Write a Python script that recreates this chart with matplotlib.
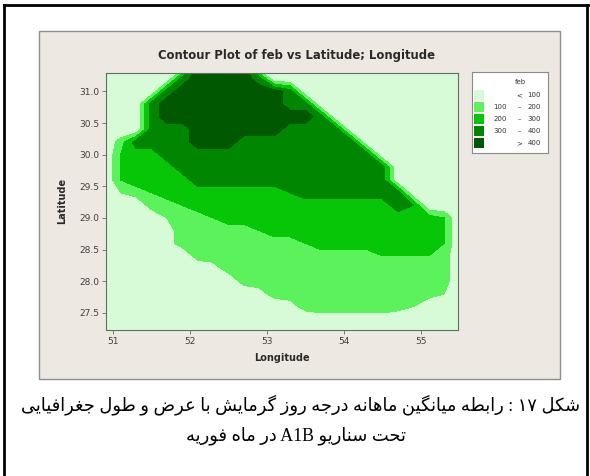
import matplotlib
matplotlib.use("Agg")
import matplotlib.pyplot as plt
from matplotlib.patches import Rectangle
from matplotlib.lines import Line2D
import numpy as np

# grid nodes of the feb field
longitude = [50.9, 51.1, 51.3, 51.5, 51.7, 51.9, 52.1, 52.3, 52.5, 52.7, 52.9, 53.1,
             53.3, 53.5, 53.7, 53.9, 54.1, 54.3, 54.5, 54.7, 54.9, 55.1, 55.3, 55.5]
latitude = [31.4, 31.2, 31.0, 30.8, 30.6, 30.4, 30.2, 30.0, 29.8, 29.6, 29.4,
            29.2, 29.0, 28.8, 28.6, 28.4, 28.2, 28.0, 27.8, 27.6, 27.4, 27.2]

# one string per latitude (north -> south), each digit is feb / 50
feb_rows = [
    "000000999900000000000000",
    "000007999970000000000000",
    "000079999999700000000000",
    "000799999999770000000000",
    "000799999999997000000000",
    "000777999999777700000000",
    "037777999777777770000000",
    "045577777777777777000000",
    "045557777777777777700000",
    "045555777777777777700000",
    "023455555555677777770000",
    "000334555555555555576000",
    "000023345555555555555540",
    "000013333345555555555540",
    "000013333333345555555540",
    "000000333333333333444430",
    "000000013333333333333330",
    "000000000333333333333330",
    "000000000013333333333320",
    "000000000000133333332000",
    "000000000000001111100000",
    "000000000000000000000000",
]

levels = [0, 100, 200, 300, 400, 500]
level_colors = ["#d6fbd6", "#5cf25c", "#07c607", "#008600", "#005800"]

x_ticks = [51, 52, 53, 54, 55]
y_ticks = [27.5, 28.0, 28.5, 29.0, 29.5, 30.0, 30.5, 31.0]

caption_1 = "شکل ۱۷ : رابطه میانگین ماهانه درجه روز گرمایش با عرض و طول جغرافیایی"
caption_2 = "تحت سناریو A1B در ماه فوریه"

# contextual forms: isolated, final, initial, medial (two = right-joining only)
FORMS = {
    "ا": "\ufe8d\ufe8e", "ب": "\ufe8f\ufe90\ufe91\ufe92",
    "ت": "\ufe95\ufe96\ufe97\ufe98", "ج": "\ufe9d\ufe9e\ufe9f\ufea0",
    "ح": "\ufea1\ufea2\ufea3\ufea4", "د": "\ufea9\ufeaa",
    "ر": "\ufead\ufeae", "ز": "\ufeaf\ufeb0",
    "س": "\ufeb1\ufeb2\ufeb3\ufeb4", "ش": "\ufeb5\ufeb6\ufeb7\ufeb8",
    "ض": "\ufebd\ufebe\ufebf\ufec0", "ط": "\ufec1\ufec2\ufec3\ufec4",
    "ع": "\ufec9\ufeca\ufecb\ufecc", "غ": "\ufecd\ufece\ufecf\ufed0",
    "ف": "\ufed1\ufed2\ufed3\ufed4", "ل": "\ufedd\ufede\ufedf\ufee0",
    "م": "\ufee1\ufee2\ufee3\ufee4", "ن": "\ufee5\ufee6\ufee7\ufee8",
    "ه": "\ufee9\ufeea\ufeeb\ufeec", "و": "\ufeed\ufeee",
    "ک": "\ufb8e\ufb8f\ufb90\ufb91", "گ": "\ufb92\ufb93\ufb94\ufb95",
    "ی": "\ufbfc\ufbfd\ufbfe\ufbff",
}


def shape_word(word):
    out = []
    for i, ch in enumerate(word):
        forms = FORMS.get(ch)
        if forms is None:
            out.append(ch)
            continue
        prev = FORMS.get(word[i - 1]) if i > 0 else None
        nxt = FORMS.get(word[i + 1]) if i + 1 < len(word) else None
        join_prev = prev is not None and len(prev) == 4
        join_next = nxt is not None and len(forms) == 4
        if join_prev and join_next:
            out.append(forms[3])
        elif join_prev:
            out.append(forms[1])
        elif join_next:
            out.append(forms[2])
        else:
            out.append(forms[0])
    return "".join(reversed(out))


def rtl(line):
    words = line.split(" ")
    return " ".join(shape_word(w) if any(c in FORMS for c in w) else w
                    for w in reversed(words))


W, H = 590, 476
fig = plt.figure(figsize=(W / 100, H / 100), dpi=100, facecolor="white")

# page frame
frame_kw = dict(color="black", lw=2, transform=fig.transFigure)
fig.add_artist(Line2D([4 / W, 4 / W], [0, 1 - 5 / H], **frame_kw))
fig.add_artist(Line2D([4 / W, 1], [1 - 5 / H, 1 - 5 / H], **frame_kw))
fig.add_artist(Line2D([587 / W, 587 / W], [0, 1 - 5 / H], **frame_kw))

# grey chart panel, kept behind the axes
fig.add_artist(Rectangle((39 / W, 1 - 379 / H), 521 / W, 348 / H,
                         transform=fig.transFigure, facecolor="#eee8e2",
                         edgecolor="#8e8e8e", lw=1, zorder=-5))

ax = fig.add_axes([106 / W, 1 - 330 / H, 352 / W, 257 / H])
z = np.array([[int(c) * 50 for c in row] for row in feb_rows])
ax.contourf(longitude, latitude, z, levels=levels, colors=level_colors)
ax.set_xlim(50.91, 55.48)
ax.set_ylim(27.23, 31.29)
ax.set_xticks(x_ticks)
ax.set_xticklabels([str(v) for v in x_ticks])
ax.set_yticks(y_ticks)
ax.set_yticklabels([f"{v:.1f}" for v in y_ticks])
ax.tick_params(direction="out", length=3, width=0.6, color="#666666",
               labelsize=6.5, labelcolor="#404040", pad=2)
for s in ax.spines.values():
    s.set_color("#5f6f5f")
    s.set_linewidth(0.8)

fig.text(297 / W, 1 - 55 / H, "Contour Plot of feb vs Latitude; Longitude",
         ha="center", va="center", fontsize=8.4, fontweight="bold", color="#2a2a2a")
fig.text(62 / W, 1 - 201 / H, "Latitude", rotation=90, ha="center", va="center",
         fontsize=7, fontweight="bold", color="#2a2a2a")
fig.text(282 / W, 1 - 358 / H, "Longitude", ha="center", va="center",
         fontsize=7, fontweight="bold", color="#2a2a2a")

# legend box, drawn in its own pixel-like coordinates
lax = fig.add_axes([472 / W, 1 - 153 / H, 76 / W, 81 / H])
lax.set_xlim(0, 76)
lax.set_ylim(81, 0)
lax.set_xticks([])
lax.set_yticks([])
lax.set_facecolor("white")
for s in lax.spines.values():
    s.set_color("#8a8a8a")
    s.set_linewidth(0.8)
lax.text(48, 10, "feb", ha="center", va="center", fontsize=5, color="#333333")
for i, col in enumerate(level_colors):
    yc = 23 + i * 12
    lax.add_patch(Rectangle((2, yc - 5), 10, 10, facecolor=col, edgecolor="none"))
    if i == 0:
        parts = ("", "<", str(levels[1]))
    elif i == len(level_colors) - 1:
        parts = ("", ">", str(levels[-2]))
    else:
        parts = (str(levels[i]), "–", str(levels[i + 1]))
    lax.text(35, yc, parts[0], ha="right", va="center", fontsize=5, color="#333333")
    lax.text(47, yc, parts[1], ha="center", va="center", fontsize=5, color="#333333")
    lax.text(69, yc, parts[2], ha="right", va="center", fontsize=5, color="#333333")

cap_font = ["Liberation Serif", "DejaVu Sans"]
fig.text(301 / W, 1 - 405 / H, rtl(caption_1), ha="center", va="center",
         fontsize=12.9, family=cap_font, color="black")
fig.text(296 / W, 1 - 436 / H, rtl(caption_2), ha="center", va="center",
         fontsize=12.9, family=cap_font, color="black")

fig.savefig("out.png", dpi=100, facecolor="white")
